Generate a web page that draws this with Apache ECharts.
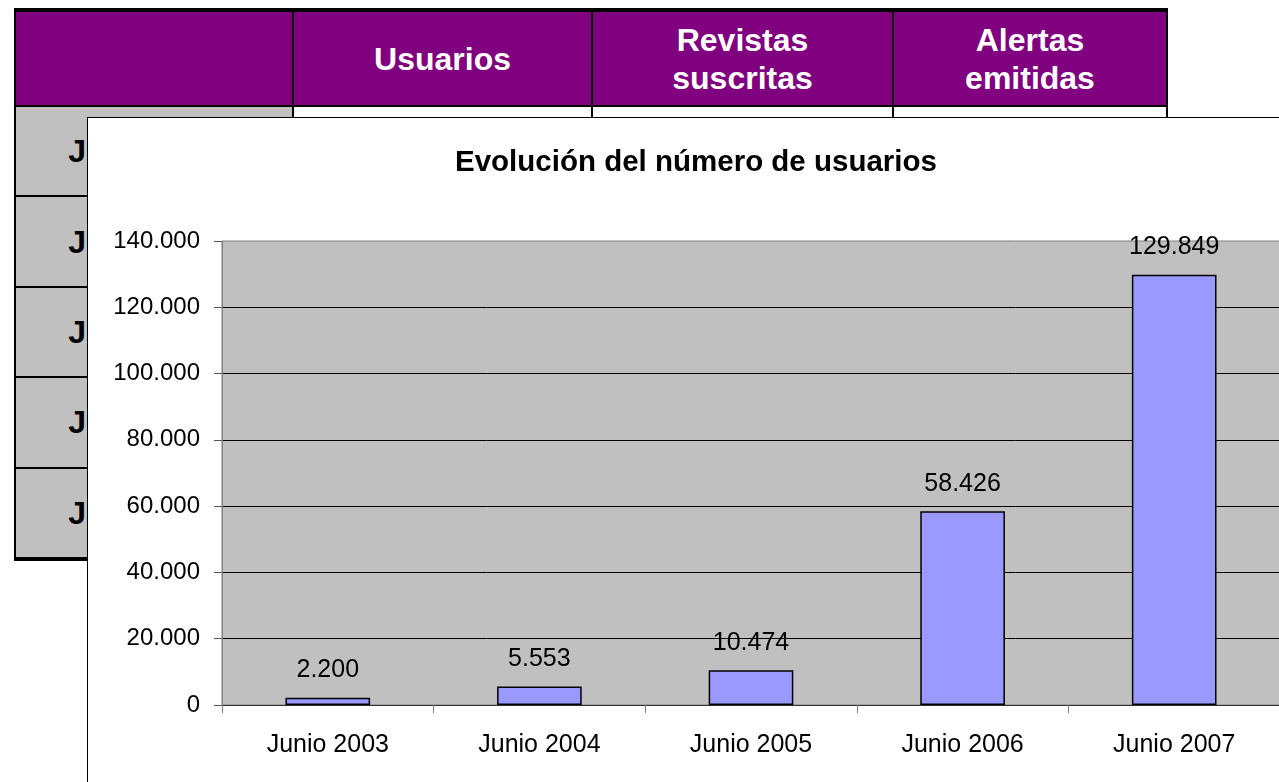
<!DOCTYPE html>
<html lang="es">
<head>
  <meta charset="UTF-8" />
  <title>Evolución del número de usuarios</title>
  <script src="https://cdn.jsdelivr.net/npm/echarts@6/dist/echarts.min.js"></script>
  <style>
    body {
      margin: 0;
      width: 1279px;
      height: 782px;
      overflow: hidden;
      background: #fff;
      position: relative;
      font-family: 'Liberation Sans', Arial, sans-serif;
    }
    #tabla {
      position: absolute;
      left: 14px;
      top: 8px;
      border-collapse: collapse;
      table-layout: fixed;
    }
    #tabla th, #tabla td {
      border: 2px solid #000;
      padding: 0;
      text-align: center;
      font-weight: bold;
      font-size: 32px;
      line-height: 38px;
    }
    #tabla th {
      background: #800080;
      color: #fff;
      height: 93px;
      border-top: 4px solid #000;
    }
    #tabla td {
      height: 88.4px;
      background: #fff;
    }
    #tabla td.label {
      background: #c0c0c0;
      color: #000;
      padding-right: 6px;
    }
    #tabla tr:last-child td {
      border-bottom: 4px solid #000;
    }
    #marco {
      position: absolute;
      left: 87px;
      top: 117px;
      width: 1250px;
      height: 700px;
      border-left: 1px solid #000;
      border-top: 1px solid #000;
      background: #fff;
    }
    #chart {
      width: 1250px;
      height: 700px;
    }
  </style>
</head>
<body>

  <table id="tabla">
    <colgroup>
      <col style="width: 278px;">
      <col style="width: 299px;">
      <col style="width: 301px;">
      <col style="width: 274px;">
    </colgroup>
    <thead>
      <tr id="cabecera"></tr>
    </thead>
    <tbody id="filas"></tbody>
  </table>

  <div id="marco">
    <div id="chart"></div>
  </div>

  <script>
    // datos
    const categorias = ["Junio 2003", "Junio 2004", "Junio 2005", "Junio 2006", "Junio 2007"];
    const usuarios = [2200, 5553, 10474, 58426, 129849];
    const columnas = ["", "Usuarios", "Revistas<br>suscritas", "Alertas<br>emitidas"];

    // tabla de fondo
    const cabecera = document.getElementById("cabecera");
    columnas.forEach(c => {
      const th = document.createElement("th");
      th.innerHTML = c;
      cabecera.appendChild(th);
    });
    const filas = document.getElementById("filas");
    categorias.forEach(cat => {
      const tr = document.createElement("tr");
      tr.innerHTML = `<td class="label">${cat}</td><td></td><td></td><td></td>`;
      filas.appendChild(tr);
    });

    const puntos = v => String(v).replace(/\B(?=(\d{3})+(?!\d))/g, ".");
    const fuente = "'Liberation Sans', Arial, sans-serif";

    const chart = echarts.init(document.getElementById("chart"));
    chart.setOption({
      animation: false,
      textStyle: { fontFamily: fuente },
      title: {
        text: "Evolución del número de usuarios",
        left: 362,
        top: 25,
        textStyle: {
          fontFamily: fuente,
          fontSize: 29.5,
          fontWeight: "bold",
          color: "#000"
        }
      },
      grid: {
        left: 134,
        top: 123,
        width: 1058,
        height: 464,
        show: true,
        backgroundColor: "#c0c0c0",
        borderColor: "#808080",
        borderWidth: 1
      },
      xAxis: {
        type: "category",
        data: categorias,
        axisLine: { lineStyle: { color: "#333", width: 1 } },
        axisTick: { show: true, length: 8, lineStyle: { color: "#808080" } },
        axisLabel: { fontSize: 25, color: "#000", margin: 28, fontFamily: fuente }
      },
      yAxis: {
        type: "value",
        min: 0,
        max: 140000,
        interval: 20000,
        axisLine: { show: true, lineStyle: { color: "#808080" } },
        axisTick: { show: true, length: 8, lineStyle: { color: "#555" } },
        axisLabel: {
          fontSize: 24,
          color: "#000",
          margin: 22,
          fontFamily: fuente,
          formatter: v => puntos(v)
        },
        splitLine: {
          show: true,
          showMaxLine: false,
          lineStyle: { color: "#000", width: 1 }
        }
      },
      series: [{
        name: "Usuarios",
        type: "bar",
        data: usuarios,
        barWidth: "40%",
        itemStyle: {
          color: "#9999ff",
          borderColor: "#000",
          borderWidth: 1.5
        },
        label: {
          show: true,
          position: "top",
          distance: 15,
          fontSize: 25,
          color: "#000",
          fontFamily: fuente,
          formatter: p => puntos(p.value)
        }
      }]
    });
  </script>

</body>
</html>
